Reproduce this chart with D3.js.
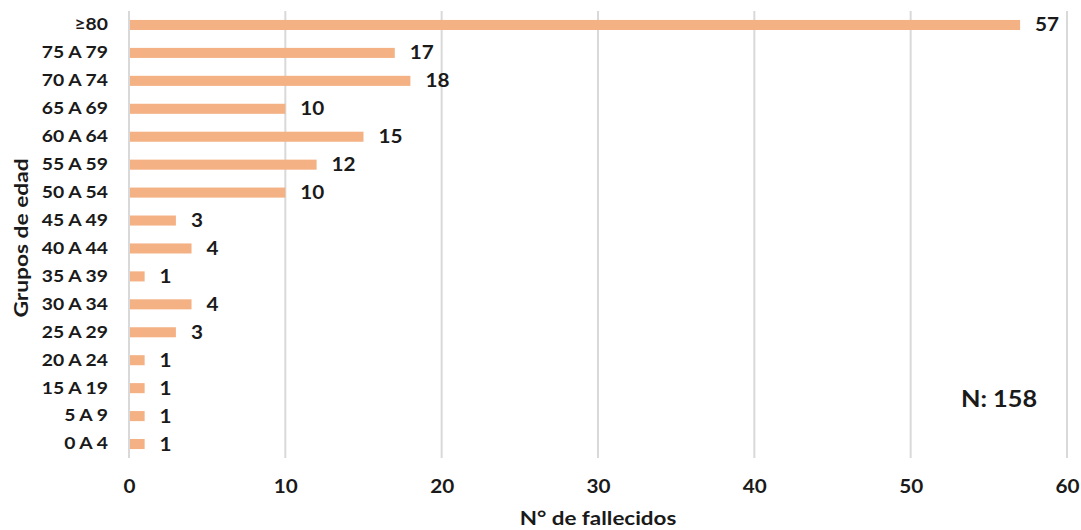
<!DOCTYPE html>
<html>
<head>
<meta charset="utf-8">
<script src="https://cdn.jsdelivr.net/npm/d3@7"></script>
<style>
  html, body { margin: 0; padding: 0; background: #fff; }
  svg text { font-family: Lato, "Open Sans", sans-serif; font-weight: bold; fill: #1a1a1a; }
</style>
</head>
<body>
<svg id="chart" width="1081" height="530"></svg>
<script>
// Age groups, top to bottom
const groups = ["≥80", "75 A 79", "70 A 74", "65 A 69", "60 A 64", "55 A 59", "50 A 54",
  "45 A 49", "40 A 44", "35 A 39", "30 A 34", "25 A 29", "20 A 24", "15 A 19", "5 A 9", "0 A 4"];
// Deaths per age group
const deaths = [57, 17, 18, 10, 15, 12, 10, 3, 4, 1, 4, 3, 1, 1, 1, 1];
const xTicks = [0, 10, 20, 30, 40, 50, 60];
const totalLabel = "N: 158";

const svg = d3.select("#chart");
const margin = { left: 129, right: 14, top: 11, bottom: 72 };
const W = 1081, H = 530;

const x = d3.scaleLinear().domain([0, 60]).range([margin.left, W - margin.right]);
const y = d3.scaleBand().domain(groups).range([margin.top, H - margin.bottom]).paddingInner(0.64).paddingOuter(0.32);

// Vertical gridlines (including the baseline at 0)
svg.append("g")
  .selectAll("line")
  .data(xTicks)
  .join("line")
  .attr("x1", d => x(d)).attr("x2", d => x(d))
  .attr("y1", margin.top).attr("y2", H - margin.bottom)
  .attr("stroke", "#d9d9d9").attr("stroke-width", 2);

// Bars
svg.append("g")
  .selectAll("rect")
  .data(groups)
  .join("rect")
  .attr("x", x(0) + 1)
  .attr("y", d => y(d))
  .attr("width", (d, i) => x(deaths[i]) - x(0) - 1)
  .attr("height", y.bandwidth())
  .attr("fill", "#F4B183");

// Value labels
svg.append("g")
  .selectAll("text")
  .data(groups)
  .join("text")
  .attr("x", (d, i) => x(deaths[i]) + 15)
  .attr("y", d => y(d) + y.bandwidth() / 2)
  .attr("dy", "0.36em")
  .attr("font-size", 18)
  .text((d, i) => deaths[i]);

// Category axis
const yAxis = svg.append("g")
  .attr("transform", `translate(${margin.left - 21},0)`)
  .call(d3.axisLeft(y).tickSize(0).tickPadding(0));
yAxis.select(".domain").remove();
yAxis.selectAll("text").attr("font-size", 16.8).attr("fill", "#1a1a1a")
  .style("font-family", "Lato, 'Open Sans', sans-serif").style("font-weight", "bold");

// Value axis
const xAxis = svg.append("g")
  .attr("transform", `translate(0,${H - margin.bottom})`)
  .call(d3.axisBottom(x).tickValues(xTicks).tickSize(0).tickPadding(22));
xAxis.select(".domain").remove();
xAxis.selectAll("text").attr("font-size", 18).attr("fill", "#1a1a1a")
  .style("font-family", "Lato, 'Open Sans', sans-serif").style("font-weight", "bold");

// Axis titles
svg.append("text")
  .attr("x", 598).attr("y", 525)
  .attr("text-anchor", "middle")
  .attr("font-size", 19.5)
  .text("N° de fallecidos");

svg.append("text")
  .attr("transform", "translate(28,238) rotate(-90)")
  .attr("text-anchor", "middle")
  .attr("font-size", 19.8)
  .text("Grupos de edad");

// Total annotation
svg.append("text")
  .attr("x", 999).attr("y", 399)
  .attr("dy", "0.36em")
  .attr("text-anchor", "middle")
  .attr("font-size", 22)
  .text(totalLabel);

// Widen the glyphs a little for a broader letterform
svg.selectAll("text").each(function () {
  const len = this.getComputedTextLength();
  if (len > 0) {
    d3.select(this).attr("textLength", len * 1.15).attr("lengthAdjust", "spacingAndGlyphs");
  }
});
</script>
</body>
</html>
